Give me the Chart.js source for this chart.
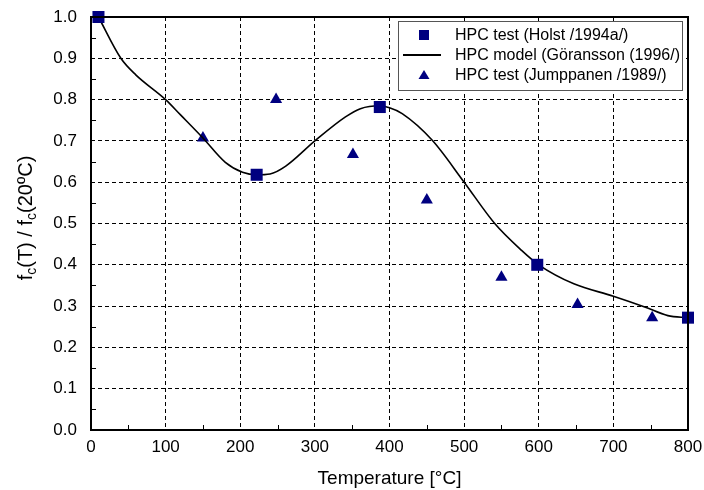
<!DOCTYPE html>
<html>
<head>
<meta charset="utf-8">
<script src="https://cdn.jsdelivr.net/npm/chart.js@4"></script>
<style>
  html, body { margin: 0; background: #fff; }
  #wrap { width: 704px; height: 490px; }
</style>
</head>
<body>
<div id="wrap"><canvas id="chart"></canvas></div>
<script>
// HPC test (Holst /1994a/)
const holstTemp = [10, 222, 387, 598, 800];
const holstVal = [1.0, 0.618, 0.782, 0.40, 0.272];

// HPC model (Göransson (1996/)
const modelTemp = [10, 40, 60, 100, 120, 150, 180, 203, 222, 240, 261, 300, 341, 361, 387, 400, 417, 457, 500, 541, 577, 600, 647, 700, 742, 773, 800];
const modelVal = [1.0, 0.9, 0.86, 0.80, 0.763, 0.707, 0.648, 0.624, 0.618, 0.62, 0.639, 0.70, 0.758, 0.778, 0.785, 0.78, 0.766, 0.702, 0.60, 0.50, 0.435, 0.40, 0.354, 0.324, 0.298, 0.277, 0.272];

// HPC test (Jumppanen /1989/)
const jumpTemp = [150, 248, 351, 450, 550, 652, 752];
const jumpVal = [0.707, 0.80, 0.667, 0.557, 0.37, 0.304, 0.272];

const xMinorTicks = [50, 150, 250, 350, 450, 550, 650, 750];
const yMinorTicks = [0.05, 0.15, 0.25, 0.35, 0.45, 0.55, 0.65, 0.75, 0.85, 0.95];

const navy = "#000080";
const fontFamily = "'Liberation Sans', Arial, sans-serif";

function toPoints(xs, ys) {
  return xs.map((x, i) => ({ x: x, y: ys[i] }));
}

// frame, inner minor ticks, y title with subscripts, legend box
const extras = {
  id: "extras",
  afterDraw(chart) {
    const ctx = chart.ctx;
    const a = chart.chartArea;
    const xs = chart.scales.x;
    const ys = chart.scales.y;
    ctx.save();

    // minor ticks
    ctx.strokeStyle = "#000";
    ctx.lineWidth = 1;
    ctx.beginPath();
    xMinorTicks.forEach(v => {
      const px = Math.round(xs.getPixelForValue(v)) + 0.5;
      ctx.moveTo(px, a.bottom);
      ctx.lineTo(px, a.bottom - 5);
    });
    yMinorTicks.forEach(v => {
      const py = Math.round(ys.getPixelForValue(v)) + 0.5;
      ctx.moveTo(a.left, py);
      ctx.lineTo(a.left + 5, py);
    });
    ctx.stroke();

    // frame
    ctx.lineWidth = 2;
    ctx.strokeRect(a.left, a.top, a.right - a.left, a.bottom - a.top);

    // y title
    ctx.translate(26, 218);
    ctx.rotate(-Math.PI / 2);
    const parts = [["f", 0], ["c", 1], ["(T) / f", 0], ["c", 1], ["(20ºC)", 0]];
    const big = "20px " + fontFamily;
    const small = "14px " + fontFamily;
    let total = 0;
    parts.forEach(p => { ctx.font = p[1] ? small : big; total += ctx.measureText(p[0]).width; });
    let cx = -total / 2;
    ctx.fillStyle = "#000";
    ctx.textBaseline = "middle";
    ctx.textAlign = "left";
    parts.forEach(p => {
      ctx.font = p[1] ? small : big;
      ctx.fillText(p[0], cx, p[1] ? 6 : 0);
      cx += ctx.measureText(p[0]).width;
    });
    ctx.setTransform(1, 0, 0, 1, 0, 0);

    // legend
    const bx = 398, by = 21, bw = 284, bh = 69;
    ctx.fillStyle = "#fff";
    ctx.fillRect(bx, by, bw, bh);
    ctx.strokeStyle = "#555";
    ctx.lineWidth = 1;
    ctx.strokeRect(bx + 0.5, by + 0.5, bw, bh);

    const rows = [35, 55, 75];
    const mx = 424;
    ctx.font = "16px " + fontFamily;
    ctx.textBaseline = "middle";
    chart.data.datasets.forEach((ds, i) => {
      const y = rows[i];
      if (ds.showLine) {
        ctx.strokeStyle = "#000";
        ctx.lineWidth = 2;
        ctx.beginPath();
        ctx.moveTo(403, y);
        ctx.lineTo(441, y);
        ctx.stroke();
      } else if (ds.pointStyle === "rect") {
        ctx.fillStyle = navy;
        ctx.fillRect(mx - 5, y - 5, 10, 10);
      } else {
        ctx.fillStyle = navy;
        ctx.beginPath();
        ctx.moveTo(mx, y - 5);
        ctx.lineTo(mx + 5.5, y + 4);
        ctx.lineTo(mx - 5.5, y + 4);
        ctx.closePath();
        ctx.fill();
      }
      ctx.fillStyle = "#000";
      ctx.fillText(ds.label, 455, y + 1);
    });
    ctx.restore();
  }
};

new Chart(document.getElementById("chart"), {
  type: "scatter",
  data: {
    datasets: [
      {
        label: "HPC test (Holst /1994a/)",
        data: toPoints(holstTemp, holstVal),
        pointStyle: "rect",
        pointRadius: 8.5,
        pointBackgroundColor: navy,
        pointBorderColor: navy,
        pointBorderWidth: 0,
        showLine: false,
        clip: false
      },
      {
        label: "HPC model (Göransson (1996/)",
        data: toPoints(modelTemp, modelVal),
        showLine: true,
        borderColor: "#000",
        borderWidth: 1.6,
        pointRadius: 0,
        cubicInterpolationMode: "monotone",
        clip: false
      },
      {
        label: "HPC test (Jumppanen /1989/)",
        data: toPoints(jumpTemp, jumpVal),
        pointStyle: "triangle",
        pointRadius: 7,
        pointBackgroundColor: navy,
        pointBorderColor: navy,
        pointBorderWidth: 0,
        showLine: false,
        clip: false
      }
    ]
  },
  options: {
    responsive: true,
    maintainAspectRatio: false,
    animation: false,
    layout: { padding: { top: 17, right: 16, bottom: 0, left: 0 } },
    plugins: {
      legend: { display: false },
      tooltip: { enabled: false }
    },
    scales: {
      x: {
        type: "linear",
        min: 0,
        max: 800,
        afterFit: s => { s.height = 60; s.paddingLeft = 0; s.paddingRight = 0; },
        ticks: { stepSize: 100, color: "#000", font: { size: 17, family: fontFamily }, padding: 7, maxRotation: 0 },
        grid: { color: "#000", lineWidth: 1, drawTicks: false },
        border: { display: false, dash: [4, 3] },
        title: { display: true, text: "Temperature [°C]", color: "#000", font: { size: 19, family: fontFamily }, padding: { top: 0, bottom: 0 } }
      },
      y: {
        min: 0,
        max: 1.0,
        afterFit: s => { s.width = 91; s.paddingTop = 0; s.paddingBottom = 0; },
        ticks: { stepSize: 0.1, color: "#000", font: { size: 17, family: fontFamily }, padding: 14, callback: v => v.toFixed(1) },
        grid: { color: "#000", lineWidth: 1, drawTicks: false },
        border: { display: false, dash: [4, 3] }
      }
    }
  },
  plugins: [extras]
});
</script>
</body>
</html>
